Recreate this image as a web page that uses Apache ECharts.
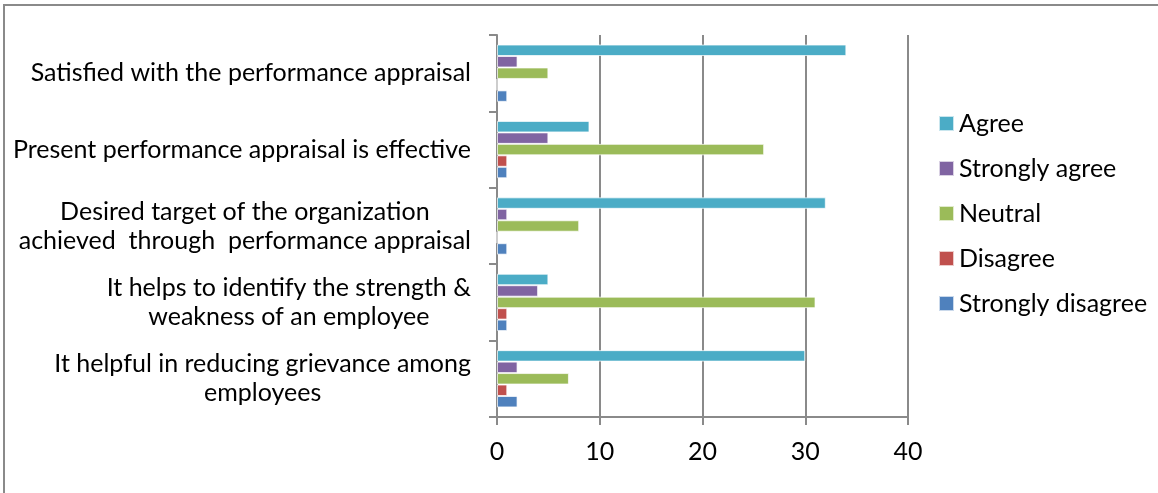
<!DOCTYPE html>
<html>
<head>
<meta charset="UTF-8">
<title>Performance appraisal</title>
<script src="https://cdn.jsdelivr.net/npm/echarts@6/dist/echarts.min.js"></script>
<style>
  html, body { margin: 0; padding: 0; background: #fff; }
  #frame {
    position: absolute; left: 3px; top: 4px; width: 1200px; height: 540px;
    border: 2px solid #8a8a8a; box-sizing: border-box;
  }
  #chart { position: absolute; left: 0; top: 0; width: 1158px; height: 493px; }
</style>
</head>
<body>
<div id="frame"></div>
<div id="chart"></div>
<script type="text/javascript">
// categories, bottom to top as on the axis
var categories = [
  'It helpful in reducing grievance among\nemployees',
  'It helps to identify the strength &\nweakness of an employee',
  'Desired target of the organization\nachieved  through  performance appraisal',
  'Present performance appraisal is effective',
  'Satisfied with the performance appraisal'
];
var agree            = [30, 5, 32, 9, 34];
var stronglyAgree    = [2, 4, 1, 5, 2];
var neutral          = [7, 31, 8, 26, 5];
var disagree         = [1, 1, 0, 1, 0];
var stronglyDisagree = [2, 1, 1, 1, 1];
var xTicks = [0, 10, 20, 30, 40];
var legendOrder = ['Agree', 'Strongly agree', 'Neutral', 'Disagree', 'Strongly disagree'];

var font = 'Lato';

function bar(name, data, color) {
  return {
    name: name,
    type: 'bar',
    data: data,
    barGap: 0,
    barCategoryGap: '25%',
    itemStyle: { color: color, borderColor: 'rgba(255,255,255,0.7)', borderWidth: 1 }
  };
}

var myChart = echarts.init(document.getElementById('chart'));
myChart.setOption({
  animation: false,
  textStyle: { fontFamily: font, color: '#000' },
  grid: { left: 497, top: 35, width: 411, height: 382, containLabel: false },
  legend: {
    orient: 'vertical',
    left: 933,
    top: 106,
    itemWidth: 15,
    itemHeight: 15,
    itemGap: 20,
    icon: 'rect',
    data: legendOrder,
    textStyle: { fontFamily: font, fontSize: 25, color: '#000' }
  },
  xAxis: {
    type: 'value',
    min: xTicks[0],
    max: xTicks[xTicks.length - 1],
    interval: 10,
    axisLine: { show: true, lineStyle: { color: '#8a8a8a', width: 2 } },
    axisTick: { show: true, length: 8, lineStyle: { color: '#8a8a8a', width: 2 } },
    splitLine: { show: true, lineStyle: { color: '#8a8a8a', width: 2 } },
    axisLabel: { fontFamily: font, fontSize: 25, color: '#000', margin: 22 }
  },
  yAxis: {
    type: 'category',
    data: categories,
    axisLine: { show: true, lineStyle: { color: '#8a8a8a', width: 2 } },
    axisTick: { show: true, length: 8, lineStyle: { color: '#8a8a8a', width: 2 } },
    axisLabel: {
      margin: 26,
      align: 'right',
      formatter: function (v) {
        return v.split('\n').map(function (l) { return '{c|' + l + '}'; }).join('\n');
      },
      rich: { c: { fontFamily: font, fontSize: 25, color: '#000', align: 'center', lineHeight: 29 } }
    }
  },
  // series 0 is drawn at the top of each category band
  series: [
    bar('Agree', agree, '#4BACC6'),
    bar('Strongly agree', stronglyAgree, '#8064A2'),
    bar('Neutral', neutral, '#9BBB59'),
    bar('Disagree', disagree, '#C0504D'),
    bar('Strongly disagree', stronglyDisagree, '#4F81BD')
  ]
});
</script>
</body>
</html>
